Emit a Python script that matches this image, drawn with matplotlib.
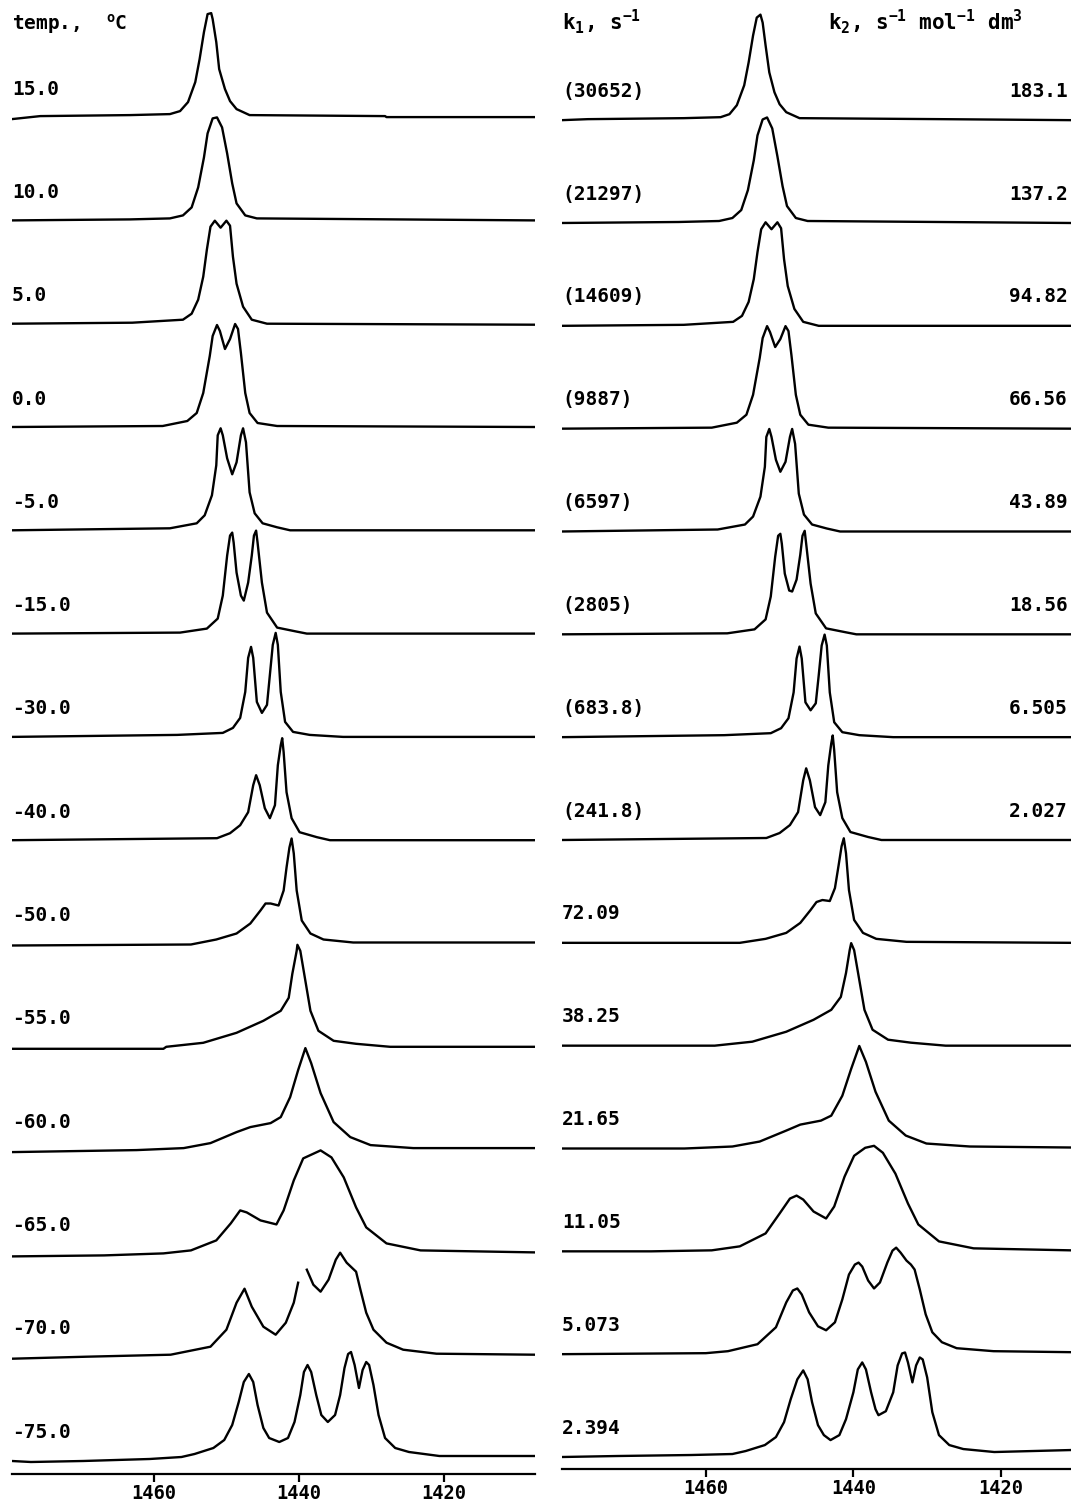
import numpy as np
import matplotlib.pyplot as plt
from matplotlib.transforms import blended_transform_factory

plt.rcParams['font.family'] = 'DejaVu Sans Mono'
plt.rcParams['font.weight'] = 'bold'
plt.rcParams['mathtext.fontset'] = 'custom'
plt.rcParams['mathtext.rm'] = 'DejaVu Sans Mono:bold'
plt.rcParams['mathtext.it'] = 'DejaVu Sans Mono:bold'
plt.rcParams['mathtext.bf'] = 'DejaVu Sans Mono:bold'

# row labels
temps = ['15.0', '10.0', '5.0', '0.0', '-5.0', '-15.0', '-30.0',
         '-40.0', '-50.0', '-55.0', '-60.0', '-65.0', '-70.0', '-75.0']
k1_labels = ['(30652)', '(21297)', '(14609)', '(9887)', '(6597)', '(2805)',
             '(683.8)', '(241.8)', '72.09', '38.25', '21.65', '11.05',
             '5.073', '2.394']
k2_labels = ['183.1', '137.2', '94.82', '66.56', '43.89', '18.56', '6.505',
             '2.027', '', '', '', '', '', '']
freq_ticks = [1460, 1440, 1420]

exp_p15 = [(1479.6, -2), (1475.7, 1), (1463.3, 2), (1457.8, 3), (1456.4, 6), (1455.3, 15),
           (1454.3, 35), (1453.7, 58), (1453.1, 85), (1452.6, 103), (1452.1, 104),
           (1451.9, 98), (1451.4, 75), (1451.0, 48), (1450.2, 28), (1449.5, 16),
           (1448.6, 8), (1446.8, 2), (1428.1, 1), (1427.9, 0), (1407.4, 0)]
exp_p10 = [(1479.6, 0), (1463.3, 1), (1457.8, 2), (1456.0, 5), (1454.8, 13), (1453.9, 33),
           (1453.1, 63), (1452.6, 87), (1451.9, 102), (1451.3, 103), (1450.6, 93),
           (1449.9, 67), (1449.2, 37), (1448.6, 17), (1447.4, 5), (1445.8, 2), (1407.4, 0)]
exp_p5 = [(1479.6, 0), (1463.0, 1), (1456.0, 4), (1454.8, 10), (1453.9, 24), (1453.2, 47),
          (1452.7, 74), (1452.2, 97), (1451.6, 103), (1450.8, 96), (1450.0, 103),
          (1449.5, 98), (1449.1, 67), (1448.6, 40), (1447.7, 17), (1446.5, 4),
          (1444.4, 0), (1407.4, -1)]
exp_0 = [(1479.6, 0), (1458.8, 1), (1455.4, 6), (1454.1, 14), (1453.2, 34), (1452.3, 71),
         (1451.9, 91), (1451.3, 102), (1450.9, 96), (1450.2, 78), (1449.5, 88),
         (1448.8, 103), (1448.4, 98), (1448.0, 74), (1447.4, 34), (1446.8, 14),
         (1445.7, 4), (1443.0, 1), (1407.4, 0)]
exp_m5 = [(1479.6, 0), (1457.8, 2), (1454.1, 7), (1453.0, 15), (1452.0, 35), (1451.4, 65),
          (1451.2, 95), (1450.8, 102), (1450.5, 95), (1449.9, 72), (1449.2, 56),
          (1448.6, 68), (1448.0, 95), (1447.7, 102), (1447.3, 88), (1446.8, 38),
          (1446.1, 17), (1445.0, 7), (1443.0, 3), (1441.2, 0), (1407.4, 0)]
exp_m15 = [(1479.6, 0), (1456.4, 1), (1452.7, 5), (1451.2, 15), (1450.5, 38), (1449.9, 78),
           (1449.5, 98), (1449.2, 101), (1449.0, 91), (1448.6, 61), (1448.0, 38),
           (1447.6, 33), (1447.0, 51), (1446.5, 78), (1446.2, 98), (1445.9, 103),
           (1445.7, 91), (1445.1, 51), (1444.4, 21), (1443.0, 6), (1440.3, 2),
           (1438.9, 0), (1407.4, 0)]
exp_m30 = [(1479.6, 0), (1456.8, 2), (1450.5, 4), (1449.1, 9), (1448.1, 19), (1447.4, 45),
           (1447.0, 79), (1446.6, 90), (1446.3, 79), (1445.8, 35), (1445.1, 24),
           (1444.4, 32), (1444.0, 62), (1443.6, 92), (1443.2, 104), (1442.9, 92),
           (1442.5, 45), (1441.9, 15), (1440.8, 5), (1438.5, 2), (1433.9, 0), (1407.4, 0)]
exp_m40 = [(1479.6, 0), (1451.3, 2), (1449.5, 7), (1448.1, 15), (1447.0, 28), (1446.3, 55),
           (1445.9, 65), (1445.4, 55), (1444.7, 32), (1444.0, 22), (1443.3, 35),
           (1442.9, 75), (1442.5, 95), (1442.3, 102), (1442.1, 88), (1441.7, 48),
           (1441.0, 22), (1439.9, 8), (1437.5, 3), (1435.7, 0), (1407.4, 0)]
exp_m50 = [(1479.6, -2), (1454.9, -1), (1451.4, 4), (1448.6, 10), (1446.7, 20), (1445.3, 33),
           (1444.6, 40), (1443.9, 40), (1442.8, 38), (1442.1, 53), (1441.7, 76),
           (1441.3, 96), (1441.0, 105), (1440.7, 90), (1440.3, 53), (1439.6, 23),
           (1438.4, 10), (1436.6, 4), (1432.5, 1), (1407.4, 1)]
exp_m55 = [(1479.6, -2), (1458.7, -2), (1458.3, 0), (1453.2, 4), (1448.6, 14), (1444.9, 26),
           (1442.5, 36), (1441.4, 49), (1440.9, 73), (1440.3, 96), (1440.2, 102),
           (1439.8, 96), (1439.1, 66), (1438.4, 36), (1437.3, 16), (1435.2, 6),
           (1432.1, 3), (1427.4, 0), (1407.4, 0)]
exp_m60 = [(1479.6, -2), (1462.4, 0), (1455.9, 2), (1452.2, 7), (1448.6, 18), (1446.7, 23),
           (1443.9, 27), (1442.5, 33), (1441.2, 53), (1440.1, 80), (1439.1, 102),
           (1438.3, 87), (1437.0, 57), (1435.2, 28), (1432.9, 13), (1430.1, 5),
           (1424.2, 2), (1407.4, 2)]
exp_m65 = [(1479.6, -3), (1466.9, -2), (1458.7, 0), (1454.9, 3), (1451.4, 13), (1449.4, 30),
           (1448.1, 43), (1447.2, 41), (1445.3, 33), (1443.1, 29), (1442.1, 43),
           (1440.7, 73), (1439.4, 95), (1437.0, 103), (1435.5, 96), (1433.8, 76),
           (1432.1, 46), (1430.7, 26), (1427.9, 10), (1423.2, 3), (1407.4, 1)]
exp_m70 = [(1479.6, -2), (1469.3, 0), (1457.7, 2), (1452.2, 10), (1450.0, 27), (1448.6, 54),
           (1447.5, 68), (1446.5, 50), (1444.9, 30), (1443.2, 22), (1441.8, 34),
           (1440.7, 54), (1440.1, 74), (np.nan, np.nan), (1438.9, 87), (1438.0, 72),
           (1437.0, 65), (1435.9, 77), (1434.9, 97), (1434.3, 104), (1433.4, 94),
           (1432.1, 85), (1431.5, 67), (1430.7, 44), (1429.7, 27), (1427.9, 14),
           (1425.6, 7), (1421.0, 3), (1407.4, 2)]
exp_m75 = [(1479.6, -1), (1477.0, -2), (1469.8, -1), (1460.6, 1), (1456.2, 3), (1454.4, 6),
           (1451.8, 12), (1450.3, 20), (1449.2, 35), (1448.3, 58), (1447.6, 78),
           (1446.9, 86), (1446.3, 78), (1445.7, 55), (1444.9, 32), (1444.1, 22),
           (1442.7, 18), (1441.5, 22), (1440.6, 38), (1439.8, 65), (1439.3, 88),
           (1438.8, 95), (1438.3, 88), (1437.6, 65), (1436.9, 45), (1436.0, 38),
           (1435.0, 45), (1434.3, 65), (1433.7, 92), (1433.2, 106), (1432.8, 108),
           (1432.3, 95), (1431.7, 72), (1431.2, 90), (1430.7, 98), (1430.3, 95),
           (1429.7, 75), (1429.0, 45), (1428.1, 22), (1426.7, 12), (1424.8, 8),
           (1420.6, 4), (1407.4, 4)]

# simulated spectra
sim_183 = [(1479.5, 0), (1476.0, 1), (1463.0, 2), (1458.0, 3), (1456.8, 6), (1455.8, 15),
           (1454.8, 35), (1454.2, 58), (1453.6, 85), (1453.1, 103), (1452.6, 106),
           (1452.3, 98), (1451.9, 75), (1451.4, 48), (1450.7, 28), (1450.0, 16),
           (1449.1, 8), (1447.3, 2), (1428.0, 1), (1410.5, 0)]
sim_137 = [(1479.5, 0), (1463.7, 1), (1458.2, 2), (1456.4, 5), (1455.2, 13), (1454.3, 33),
           (1453.5, 63), (1453.0, 88), (1452.3, 104), (1451.7, 106), (1451.0, 95),
           (1450.3, 67), (1449.6, 37), (1449.0, 17), (1447.8, 5), (1446.2, 2), (1410.5, 0)]
sim_94 = [(1479.5, 0), (1463.0, 1), (1456.3, 4), (1455.1, 10), (1454.2, 24), (1453.5, 47),
          (1453.0, 74), (1452.5, 97), (1451.9, 104), (1451.1, 97), (1450.3, 104),
          (1449.8, 98), (1449.4, 67), (1448.9, 40), (1448.0, 17), (1446.8, 4),
          (1444.7, 0), (1410.5, 0)]
sim_66 = [(1479.5, 0), (1459.2, 1), (1455.8, 6), (1454.5, 14), (1453.6, 34), (1452.7, 71),
          (1452.3, 91), (1451.7, 103), (1451.3, 97), (1450.6, 82), (1449.9, 90),
          (1449.2, 103), (1448.8, 98), (1448.4, 74), (1447.8, 34), (1447.2, 14),
          (1446.1, 4), (1443.4, 1), (1410.5, 0)]
sim_43 = [(1479.5, 0), (1458.4, 2), (1454.7, 7), (1453.6, 15), (1452.6, 35), (1452.0, 65),
          (1451.8, 95), (1451.4, 103), (1451.1, 95), (1450.5, 72), (1449.9, 60),
          (1449.2, 70), (1448.6, 95), (1448.3, 103), (1447.9, 88), (1447.4, 38),
          (1446.7, 17), (1445.6, 7), (1443.6, 3), (1441.8, 0), (1410.5, 0)]
sim_18 = [(1479.5, 0), (1457.1, 1), (1453.4, 5), (1451.9, 15), (1451.2, 38), (1450.6, 78),
          (1450.2, 99), (1449.9, 101), (1449.7, 91), (1449.3, 61), (1448.7, 44),
          (1448.3, 43), (1447.7, 55), (1447.2, 80), (1446.9, 99), (1446.6, 104),
          (1446.4, 91), (1445.8, 51), (1445.1, 21), (1443.7, 6), (1441.0, 2),
          (1439.6, 0), (1410.5, 0)]
sim_6505 = [(1479.5, 0), (1457.5, 2), (1451.2, 4), (1449.8, 9), (1448.8, 19), (1448.1, 45),
            (1447.7, 79), (1447.3, 91), (1447.0, 79), (1446.5, 35), (1445.8, 27),
            (1445.1, 34), (1444.7, 62), (1444.3, 92), (1443.9, 103), (1443.6, 92),
            (1443.2, 45), (1442.6, 15), (1441.5, 5), (1439.2, 2), (1434.6, 0), (1410.5, 0)]
sim_2027 = [(1479.5, 0), (1451.8, 2), (1450.0, 7), (1448.6, 15), (1447.5, 28), (1446.8, 60),
            (1446.4, 72), (1445.9, 60), (1445.2, 33), (1444.5, 25), (1443.8, 38),
            (1443.4, 75), (1443.0, 97), (1442.8, 105), (1442.6, 90), (1442.2, 48),
            (1441.5, 22), (1440.4, 8), (1438.0, 3), (1436.2, 0), (1410.5, 0)]
sim_7209 = [(1479.5, 0), (1455.4, 0), (1451.9, 4), (1449.1, 10), (1447.2, 20), (1445.8, 33),
            (1445.0, 41), (1444.2, 43), (1443.2, 42), (1442.5, 55), (1442.0, 78),
            (1441.6, 97), (1441.3, 105), (1441.0, 90), (1440.6, 53), (1439.9, 23),
            (1438.7, 10), (1436.9, 4), (1432.8, 1), (1410.5, 0)]
sim_3825 = [(1479.5, 0), (1458.8, 0), (1453.7, 4), (1449.1, 14), (1445.4, 26), (1443.0, 36),
            (1441.7, 49), (1441.0, 73), (1440.5, 96), (1440.3, 103), (1439.9, 96),
            (1439.2, 66), (1438.5, 36), (1437.4, 16), (1435.3, 6), (1432.2, 3),
            (1427.5, 0), (1410.5, 0)]
sim_2165 = [(1479.5, 0), (1462.9, 0), (1456.4, 2), (1452.7, 7), (1449.1, 18), (1447.2, 24),
            (1444.4, 28), (1443.0, 33), (1441.5, 53), (1440.3, 80), (1439.2, 103),
            (1438.3, 87), (1437.0, 57), (1435.2, 28), (1432.9, 13), (1430.1, 5),
            (1424.2, 2), (1410.5, 1)]
sim_1105 = [(1479.5, 0), (1467.4, 0), (1459.2, 1), (1455.4, 5), (1451.9, 18), (1450.0, 38),
            (1448.6, 53), (1447.7, 56), (1446.8, 52), (1445.4, 40), (1443.7, 33),
            (1442.6, 45), (1441.2, 75), (1439.9, 96), (1438.4, 104), (1437.2, 106),
            (1436.0, 99), (1434.3, 78), (1432.6, 48), (1431.2, 27), (1428.4, 10),
            (1423.7, 3), (1410.5, 1)]
sim_5073 = [(1479.5, 0), (1460.0, 1), (1457.0, 3), (1453.0, 10), (1450.5, 27), (1449.1, 52),
            (1448.2, 64), (1447.6, 66), (1447.0, 60), (1446.0, 42), (1444.8, 28),
            (1443.7, 24), (1442.5, 32), (1441.5, 55), (1440.6, 80), (1439.8, 90),
            (1439.3, 92), (1438.8, 88), (1438.0, 74), (1437.2, 66), (1436.4, 72),
            (1435.4, 92), (1434.7, 104), (1434.2, 107), (1433.6, 102), (1432.8, 94),
            (1432.2, 90), (1431.7, 85), (1431.0, 65), (1430.2, 40), (1429.3, 22),
            (1428.0, 12), (1426.0, 6), (1421.0, 3), (1410.5, 2)]
sim_2394 = [(1479.5, 0), (1472.0, 1), (1462.0, 2), (1456.4, 3), (1454.6, 6), (1452.0, 12),
            (1450.5, 20), (1449.4, 35), (1448.5, 58), (1447.6, 78), (1446.8, 87),
            (1446.2, 78), (1445.6, 55), (1444.8, 32), (1444.0, 22), (1443.1, 17),
            (1441.9, 22), (1441.0, 38), (1440.0, 65), (1439.4, 88), (1438.8, 95),
            (1438.3, 88), (1437.6, 65), (1437.0, 48), (1436.6, 42), (1435.6, 46),
            (1434.6, 65), (1434.0, 92), (1433.4, 104), (1433.0, 105), (1432.6, 95),
            (1432.0, 75), (1431.5, 92), (1431.0, 100), (1430.6, 98), (1430.0, 80),
            (1429.3, 45), (1428.4, 22), (1427.0, 12), (1425.1, 8), (1420.9, 5), (1410.5, 7)]

exp_spectra = [exp_p15, exp_p10, exp_p5, exp_0, exp_m5, exp_m15, exp_m30,
               exp_m40, exp_m50, exp_m55, exp_m60, exp_m65, exp_m70, exp_m75]
sim_spectra = [sim_183, sim_137, sim_94, sim_66, sim_43, sim_18, sim_6505,
               sim_2027, sim_7209, sim_3825, sim_2165, sim_1105, sim_5073, sim_2394]

ROW_STEP = 103.3
W, H = 1071, 1502

fig = plt.figure(figsize=(W / 100, H / 100), dpi=100)
# axes placed in pixel terms: (left px, right px, bottom spine px)
ax_l = fig.add_axes([12 / W, (H - 1474) / H, (535 - 12) / W, 1474 / H])
ax_r = fig.add_axes([562 / W, (H - 1469) / H, (W - 562) / W, 1469 / H])
ax_l.set_xlim(1479.6, 1407.4)
ax_l.set_ylim(-14, 1460)
ax_r.set_xlim(1479.5, 1410.5)
ax_r.set_ylim(-12.05, 1463.6)

for ax, spectra in [(ax_l, exp_spectra), (ax_r, sim_spectra)]:
    n = len(spectra)
    for i, spec in enumerate(spectra):
        arr = np.array(spec, dtype=float)
        offset = (n - 1 - i) * ROW_STEP
        ax.plot(arr[:, 0], arr[:, 1] + offset, color='black', lw=1.7,
                solid_joinstyle='round')
    for s in ['top', 'left', 'right']:
        ax.spines[s].set_visible(False)
    ax.spines['bottom'].set_linewidth(1.6)
    ax.set_yticks([])
    ax.set_xticks(freq_ticks)
    ax.tick_params(axis='x', direction='out', length=6, width=1.6, pad=1,
                   labelsize=13.5)
    ax.patch.set_visible(False)

tr_l = blended_transform_factory(ax_l.transAxes, ax_l.transData)
tr_r = blended_transform_factory(ax_r.transAxes, ax_r.transData)
for i, lab in enumerate(temps):
    offset = (len(temps) - 1 - i) * ROW_STEP
    ax_l.text(0, offset + 28, lab, transform=tr_l, ha='left', va='center',
              fontsize=14)
for i, (a, b) in enumerate(zip(k1_labels, k2_labels)):
    offset = (len(k1_labels) - 1 - i) * ROW_STEP
    ax_r.text(0, offset + 29, a, transform=tr_r, ha='left', va='center',
              fontsize=14)
    if b:
        ax_r.text(0.994, offset + 29, b, transform=tr_r, ha='right',
                  va='center', fontsize=14)

fig.text(12 / W, 1 - 24 / H, r'temp.,  $^{\mathrm{o}}$C', ha='left',
         va='center', fontsize=14)
fig.text(562 / W, 1 - 22 / H, r'k$_1$, s$^{-1}$', ha='left', va='center',
         fontsize=15)
fig.text(828 / W, 1 - 22 / H, r'k$_2$, s$^{-1}$ mol$^{-1}$ dm$^3$', ha='left',
         va='center', fontsize=15)

fig.savefig('out.png', dpi=100)
